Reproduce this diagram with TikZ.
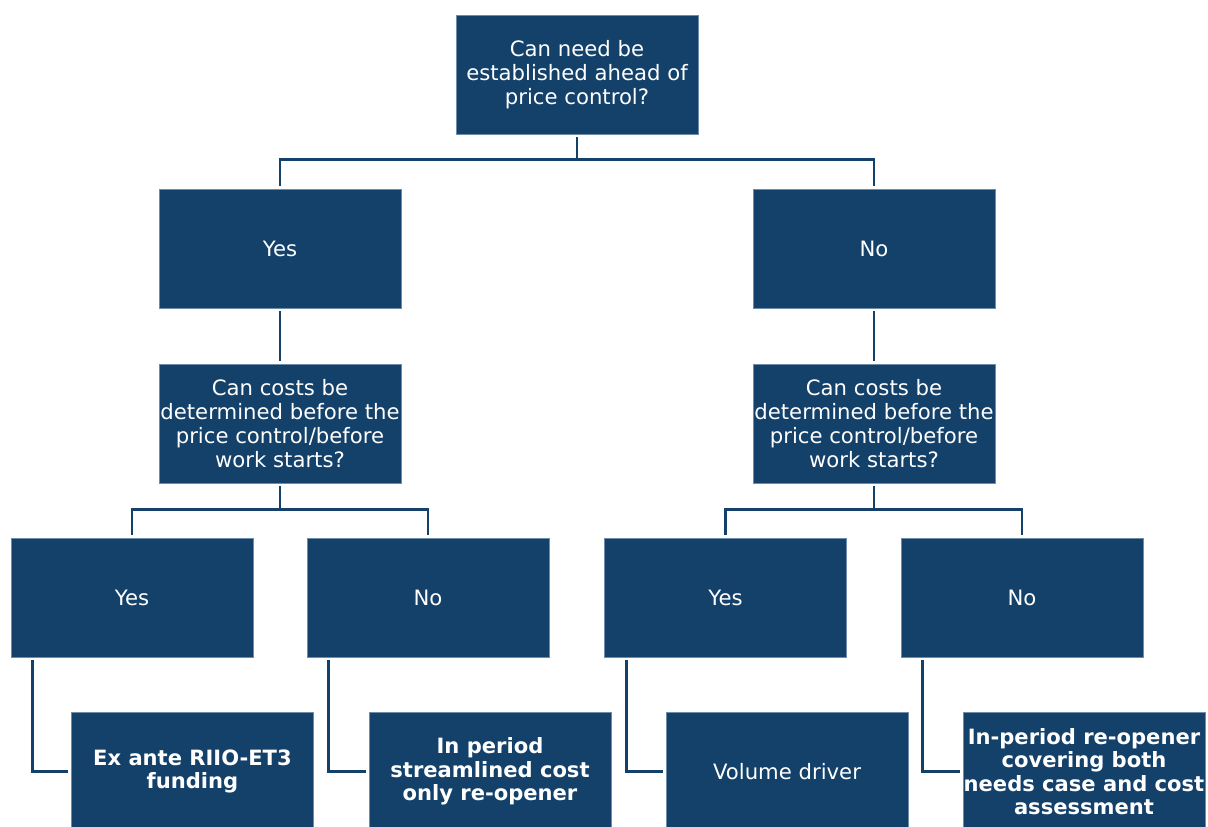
\documentclass[tikz,border=0pt]{standalone}
\usepackage{fontspec}
\setmainfont{DejaVu Sans}
\definecolor{boxblue}{RGB}{19,65,106}
\definecolor{edgeblue}{RGB}{110,140,170}
\begin{document}
\begin{tikzpicture}[x=0.75pt,y=-0.75pt,
  box/.style={fill=boxblue, draw=edgeblue, line width=0.4pt, minimum width=181.5pt, minimum height=89.25pt,
    text=white, align=center, inner sep=0pt, font=\fontsize{15.9}{18}\selectfont},
  leaf/.style={box, font=\fontsize{15.8}{17.6}\selectfont\bfseries},
  conn/.style={draw=boxblue, line width=2pt, shorten <=2.25pt, shorten >=2.25pt}]
\useasboundingbox (0,0) rectangle (1208,826);
\clip (0,0) rectangle (1208,826);
% level 0
\node[box] (q1) at (577,74.5) {Can need be\\established ahead of\\price control?};
% level 1
\node[box] (y1) at (280,248.5) {Yes};
\node[box] (n1) at (874,248.5) {No};
% level 2
\node[box] (qy) at (280,423.5) {Can costs be\\determined before the\\price control/before\\work starts?};
\node[box] (qn) at (874,423.5) {Can costs be\\determined before the\\price control/before\\work starts?};
% level 3
\node[box] (yy) at (132,597.5) {Yes};
\node[box] (yn) at (428,597.5) {No};
\node[box] (ny) at (725.5,597.5) {Yes};
\node[box] (nn) at (1022,597.5) {No};
% leaves
\node[leaf] (l1) at (192.5,771.5) {Ex ante RIIO-ET3\\funding};
\node[leaf] (l2) at (490,771.5) {In period\\streamlined cost\\only re-opener};
\node[box]  (l3) at (787,771.5) {Volume driver};
\node[leaf] (l4) at (1084,771.5) {In-period re-opener\\covering both\\needs case and cost\\assessment};
% connectors
\draw[conn] (q1.south) -- ++(0,25.5) -| (y1.north);
\draw[conn] (q1.south) -- ++(0,25.5) -| (n1.north);
\draw[conn] (y1.south) -- (qy.north);
\draw[conn] (n1.south) -- (qn.north);
\draw[conn] (qy.south) -- ++(0,26.5) -| (yy.north);
\draw[conn] (qy.south) -- ++(0,26.5) -| (yn.north);
\draw[conn] (qn.south) -- ++(0,26.5) -| (ny.north);
\draw[conn] (qn.south) -- ++(0,26.5) -| (nn.north);
\draw[conn] ([xshift=16.5pt]yy.south west) |- (l1.west);
\draw[conn] ([xshift=16.5pt]yn.south west) |- (l2.west);
\draw[conn] ([xshift=16.5pt]ny.south west) |- (l3.west);
\draw[conn] ([xshift=16.5pt]nn.south west) |- (l4.west);
\end{tikzpicture}
\end{document}
